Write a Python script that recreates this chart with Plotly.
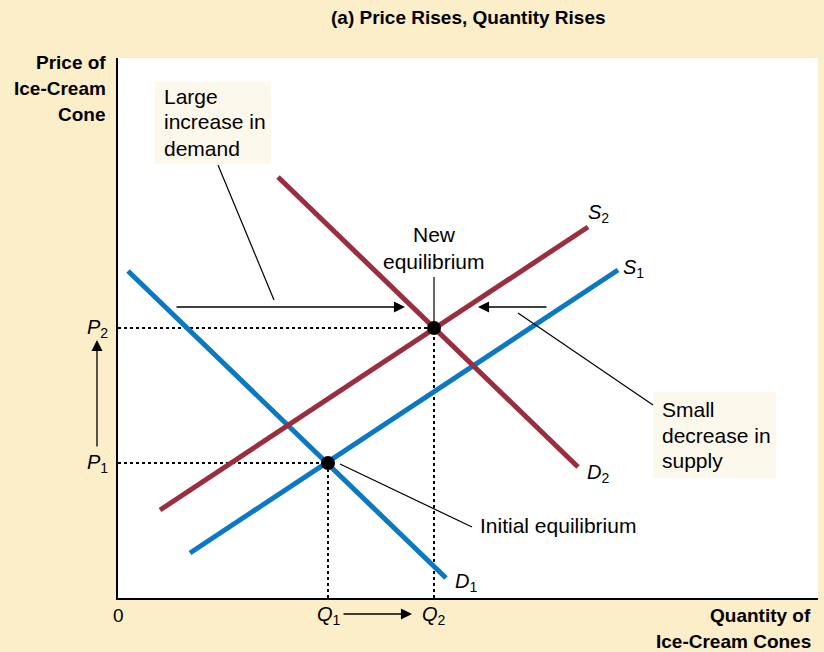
import plotly.graph_objects as go

# curve endpoints (quantity, price) in chart units
d1_q = [10, 328]
d1_p = [327, 20]
s1_q = [72, 500]
s1_p = [45, 328]
s2_q = [42, 470]
s2_p = [88, 371]
d2_q = [160, 460]
d2_p = [421, 131]

# equilibria: initial, new
eq_q = [210, 316]
eq_p = [135, 270]

X_MAX, Y_MAX = 700, 540

BLUE = '#0a78c2'
RED = '#9a2e3e'
BG = '#fbeec8'
BOX = '#fdf8ec'
FONT = 'Liberation Sans, Arial, sans-serif'

fig = go.Figure()

# dotted guides from the equilibria to the axes
for q, p in zip(eq_q, eq_p):
    fig.add_trace(go.Scatter(x=[0, q], y=[p, p], mode='lines',
                             line=dict(color='black', width=2, dash='dot'), hoverinfo='skip'))
    fig.add_trace(go.Scatter(x=[q, q], y=[0, p], mode='lines',
                             line=dict(color='black', width=2, dash='dot'), hoverinfo='skip'))

fig.add_trace(go.Scatter(x=d1_q, y=d1_p, mode='lines', line=dict(color=BLUE, width=5)))
fig.add_trace(go.Scatter(x=s1_q, y=s1_p, mode='lines', line=dict(color=BLUE, width=5)))
fig.add_trace(go.Scatter(x=s2_q, y=s2_p, mode='lines', line=dict(color=RED, width=5)))
fig.add_trace(go.Scatter(x=d2_q, y=d2_p, mode='lines', line=dict(color=RED, width=5)))
fig.add_trace(go.Scatter(x=eq_q, y=eq_p, mode='markers',
                         marker=dict(color='black', size=14), hoverinfo='skip'))

shapes = []
# annotation boxes
shapes.append(dict(type='rect', xref='x', yref='y', x0=37, x1=153, y0=434, y1=516,
                   fillcolor=BOX, line=dict(width=0), layer='below'))
shapes.append(dict(type='rect', xref='x', yref='y', x0=535, x1=658, y0=120, y1=206,
                   fillcolor=BOX, line=dict(width=0), layer='below'))
# leader lines
for x0, y0, x1, y1 in [(100, 433, 156, 298), (316, 321, 316, 276),
                       (400, 285, 535, 193), (222, 134, 354, 71)]:
    shapes.append(dict(type='line', xref='x', yref='y', x0=x0, y0=y0, x1=x1, y1=y1,
                       line=dict(color='black', width=1.2)))

ann = []


def txt(x, y, s, anchor='left', size=21, bold=False):
    # positions given in chart units, placed on paper so they may sit outside the axes
    if bold:
        s = '<b>' + s + '</b>'
    ann.append(dict(x=x / X_MAX, y=y / Y_MAX, xref='paper', yref='paper', text=s,
                    showarrow=False, xanchor=anchor, yanchor='middle',
                    font=dict(family=FONT, size=size, color='black')))


def arrow(x0, y0, x1, y1):
    ann.append(dict(x=x1 / X_MAX, y=y1 / Y_MAX, xref='paper', yref='paper',
                    ax=x0 - x1, ay=y1 - y0, axref='pixel', ayref='pixel',
                    text='', showarrow=True, arrowhead=2, arrowsize=1.7,
                    arrowwidth=1.3, arrowcolor='black', standoff=0))


for y, s in zip([502, 476, 450], ['Large', 'increase in', 'demand']):
    txt(44, y, s)
for y, s in zip([364, 337], ['New', 'equilibrium']):
    txt(316, y, s, anchor='center')
for y, s in zip([189, 163, 137], ['Small', 'decrease in', 'supply']):
    txt(542, y, s)
txt(360, 73, 'Initial equilibrium')

for y, s in zip([536, 510, 484], ['Price of', 'Ice-Cream', 'Cone']):
    txt(-10, y, s, anchor='right', size=19, bold=True)
for y, s in zip([-17, -43], ['Quantity of', 'Ice-Cream Cones']):
    txt(695, y, s, anchor='right', size=19, bold=True)
txt(350, 580, '(a) Price Rises, Quantity Rises', anchor='center', size=19, bold=True)

# curve and axis labels
txt(480, 384, '<i>S</i><sub>2</sub>', anchor='center', size=20)
txt(515, 330, '<i>S</i><sub>1</sub>', anchor='center', size=20)
txt(480, 125, '<i>D</i><sub>2</sub>', anchor='center', size=20)
txt(348, 16, '<i>D</i><sub>1</sub>', anchor='center', size=20)
txt(-21, 270, '<i>P</i><sub>2</sub>', anchor='center', size=20)
txt(-21, 135, '<i>P</i><sub>1</sub>', anchor='center', size=20)
txt(211, -17, '<i>Q</i><sub>1</sub>', anchor='center', size=20)
txt(316, -17, '<i>Q</i><sub>2</sub>', anchor='center', size=20)
txt(0, -17, '0', anchor='center', size=19)

arrow(-21, 150, -21, 258)
arrow(224, -16, 294, -16)
arrow(57, 291, 287, 291)
arrow(430, 291, 360, 291)

fig.update_layout(
    width=824, height=652,
    margin=dict(l=118, r=6, t=58, b=54),
    paper_bgcolor=BG, plot_bgcolor='white',
    showlegend=False,
    shapes=shapes, annotations=ann,
    xaxis=dict(range=[0, X_MAX], showgrid=False, zeroline=False, showticklabels=False,
               ticks='', showline=True, linecolor='black', linewidth=1.5, fixedrange=True),
    yaxis=dict(range=[0, Y_MAX], showgrid=False, zeroline=False, showticklabels=False,
               ticks='', showline=True, linecolor='black', linewidth=1.5, fixedrange=True),
)

fig.write_html("out.html", config={'displayModeBar': False},
               post_script="document.body.style.margin='0';")
